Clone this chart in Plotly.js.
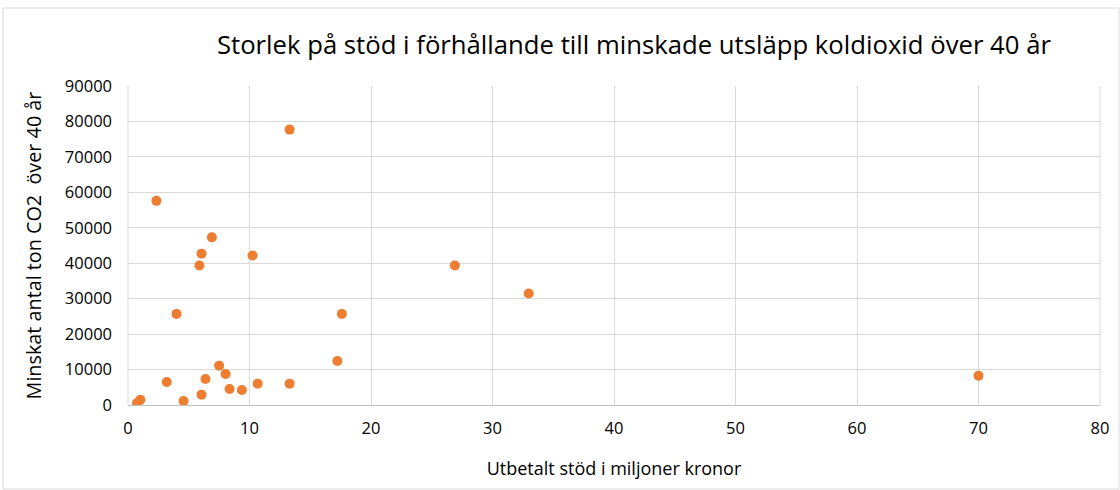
<!DOCTYPE html>
<html><head><meta charset="utf-8">
<script src="https://cdn.plot.ly/plotly-3.0.1.min.js"></script>
<style>body{margin:0;background:#fff}#c{width:1120px;height:490px}</style>
</head><body><div id="c"></div>
<script>
const stod = [13.3, 2.34, 6.9, 6.05, 5.88, 10.25, 3.99, 17.6, 17.23, 7.5, 8.03, 3.19, 6.38, 10.67, 13.3, 8.36, 9.37, 6.05, 4.57, 1.02, 0.74, 26.9, 32.98, 70.0];
const co2 = [77700, 57600, 47300, 42700, 39350, 42200, 25700, 25700, 12430, 11100, 8760, 6500, 7340, 6030, 6030, 4520, 4240, 2920, 1130, 1500, 560, 39350, 31440, 8280];
const xTicks = [0,10,20,30,40,50,60,70,80];
const yTicks = [0,10000,20000,30000,40000,50000,60000,70000,80000,90000];

const L=128, R=20, T=86, B=85, W=1120, H=490;
const pw=W-L-R, ph=H-T-B;
const fx = p => (p-L)/pw, fy = p => (H-B-p)/ph;

Plotly.newPlot('c', [{
  x: stod, y: co2, type: 'scatter', mode: 'markers',
  marker: {color: '#ED7D31', size: 10}
}], {
  width: W, height: H,
  margin: {l: L, r: R, t: T, b: B},
  paper_bgcolor: '#fff', plot_bgcolor: '#fff',
  font: {family: 'Open Sans, sans-serif', color: '#404040'},
  title: {text: 'Storlek på stöd i förhållande till minskade utsläpp koldioxid över 40 år',
    font: {size: 25.7, color: '#000'}, x: 0.566, xanchor: 'center', y: 1 - 45/H, yanchor: 'middle'},
  xaxis: {range: [0, 80], tickvals: xTicks, ticktext: xTicks.map(String),
    showgrid: true, gridcolor: '#d9d9d9', zeroline: false,
    showline: true, linecolor: '#bfbfbf', linewidth: 1, ticks: '',
    tickfont: {size: 16.5, color: '#000'}, ticklabelstandoff: 8,
    title: {text: 'Utbetalt stöd i miljoner kronor', font: {size: 18, color: '#000'}, standoff: 24}},
  yaxis: {range: [0, 90000], tickvals: yTicks, ticktext: yTicks.map(String),
    showgrid: true, gridcolor: '#d9d9d9', zeroline: false,
    showline: false, ticks: '',
    tickfont: {size: 16.5, color: '#000'}, ticklabelstandoff: 15,
    title: {text: 'Minskat antal ton CO2\u00a0\u00a0över 40 år', font: {size: 19.8, color: '#000'}, standoff: 17}},
  shapes: [{type: 'rect', xref: 'paper', yref: 'paper',
    x0: fx(3), x1: fx(1119), y0: fy(489), y1: fy(8),
    line: {color: '#d9d9d9', width: 1}, fillcolor: 'rgba(0,0,0,0)'},
    {type: 'line', xref: 'paper', yref: 'paper', x0: 1, x1: 1, y0: 0, y1: 1,
    line: {color: '#d9d9d9', width: 1}},
    {type: 'line', xref: 'paper', yref: 'paper', x0: 0, x1: 0, y0: 0, y1: 1,
    line: {color: '#d9d9d9', width: 1}}],
  showlegend: false
}, {displayModeBar: false});
</script></body></html>
